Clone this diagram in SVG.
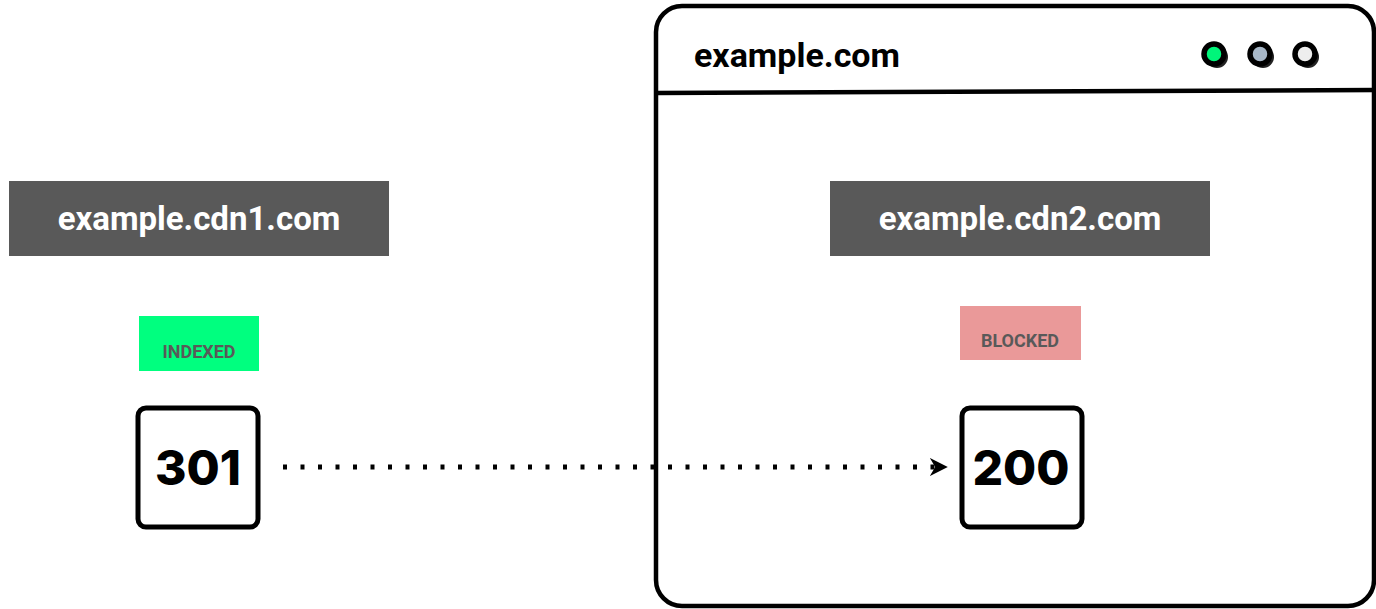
<svg xmlns="http://www.w3.org/2000/svg" width="1376" height="609" viewBox="0 0 1376 609">
<style>
.lbl{fill:#595959}
.lt{font-family:Roboto,"Liberation Sans",sans-serif;font-weight:700;fill:#fff;font-size:33px;text-anchor:middle}
.tag{font-family:Roboto,"Liberation Sans",sans-serif;font-weight:700;fill:#595959;font-size:18px;text-anchor:middle}
.code{fill:#fff;stroke:#000;stroke-width:5}
.ct{font-family:Inter,"Liberation Sans",sans-serif;font-weight:800;font-size:48px;text-anchor:middle;fill:#000}
.dot{stroke:#000;stroke-width:5.5}
</style>
<defs>
<marker id="ah" viewBox="0 0 10 10" refX="9" refY="5" markerWidth="18" markerHeight="18" markerUnits="userSpaceOnUse" orient="auto">
<path d="M0,0 L10,5 L0,10 L3,5 Z" fill="#000"/>
</marker>
</defs>
<rect width="1376" height="609" fill="#fff"/>
<g id="browser">
<rect x="656" y="6" width="718" height="600" rx="26" fill="#fff" stroke="#000" stroke-width="4.5"/>
<line x1="656" y1="93" x2="1376" y2="90" stroke="#000" stroke-width="4.5"/>
<text x="694" y="67" font-family="Roboto,'Liberation Sans',sans-serif" font-weight="700" font-size="34" fill="#000">example.com</text>
<g id="dots">
<circle cx="1217" cy="57" r="11" fill="#222"/>
<circle cx="1214" cy="54" r="10" fill="#00f57a" class="dot"/>
<circle cx="1263" cy="57" r="11" fill="#222"/>
<circle cx="1260" cy="54" r="10" fill="#a8b8c8" class="dot"/>
<circle cx="1308" cy="57" r="11" fill="#222"/>
<circle cx="1305" cy="54" r="10" fill="#eeeeee" class="dot"/>
</g>
</g>
<g id="cdn1">
<rect x="9" y="181" width="380" height="75" class="lbl"/>
<text x="199" y="230" class="lt">example.cdn1.com</text>
</g>
<g id="cdn2">
<rect x="830" y="181" width="380" height="75" class="lbl"/>
<text x="1020" y="230" class="lt">example.cdn2.com</text>
</g>
<g id="indexed">
<rect x="139" y="316" width="120" height="55" fill="#00ff7f"/>
<text x="199" y="358" class="tag">INDEXED</text>
</g>
<g id="blocked">
<rect x="960" y="306" width="121" height="54" fill="#ea9999"/>
<text x="1020" y="347" class="tag">BLOCKED</text>
</g>
<g id="code301">
<rect x="138" y="408" width="120" height="119" rx="8" class="code"/>
<text x="198" y="485" class="ct">301</text>
</g>
<g id="code200">
<rect x="962" y="408" width="120" height="119" rx="8" class="code"/>
<text x="1021" y="485" class="ct">200</text>
</g>
<g id="connectors">
<line x1="283" y1="467" x2="946" y2="467" stroke="#000" stroke-width="5" stroke-dasharray="4 13.5" marker-end="url(#ah)"/>
</g>
</svg>
